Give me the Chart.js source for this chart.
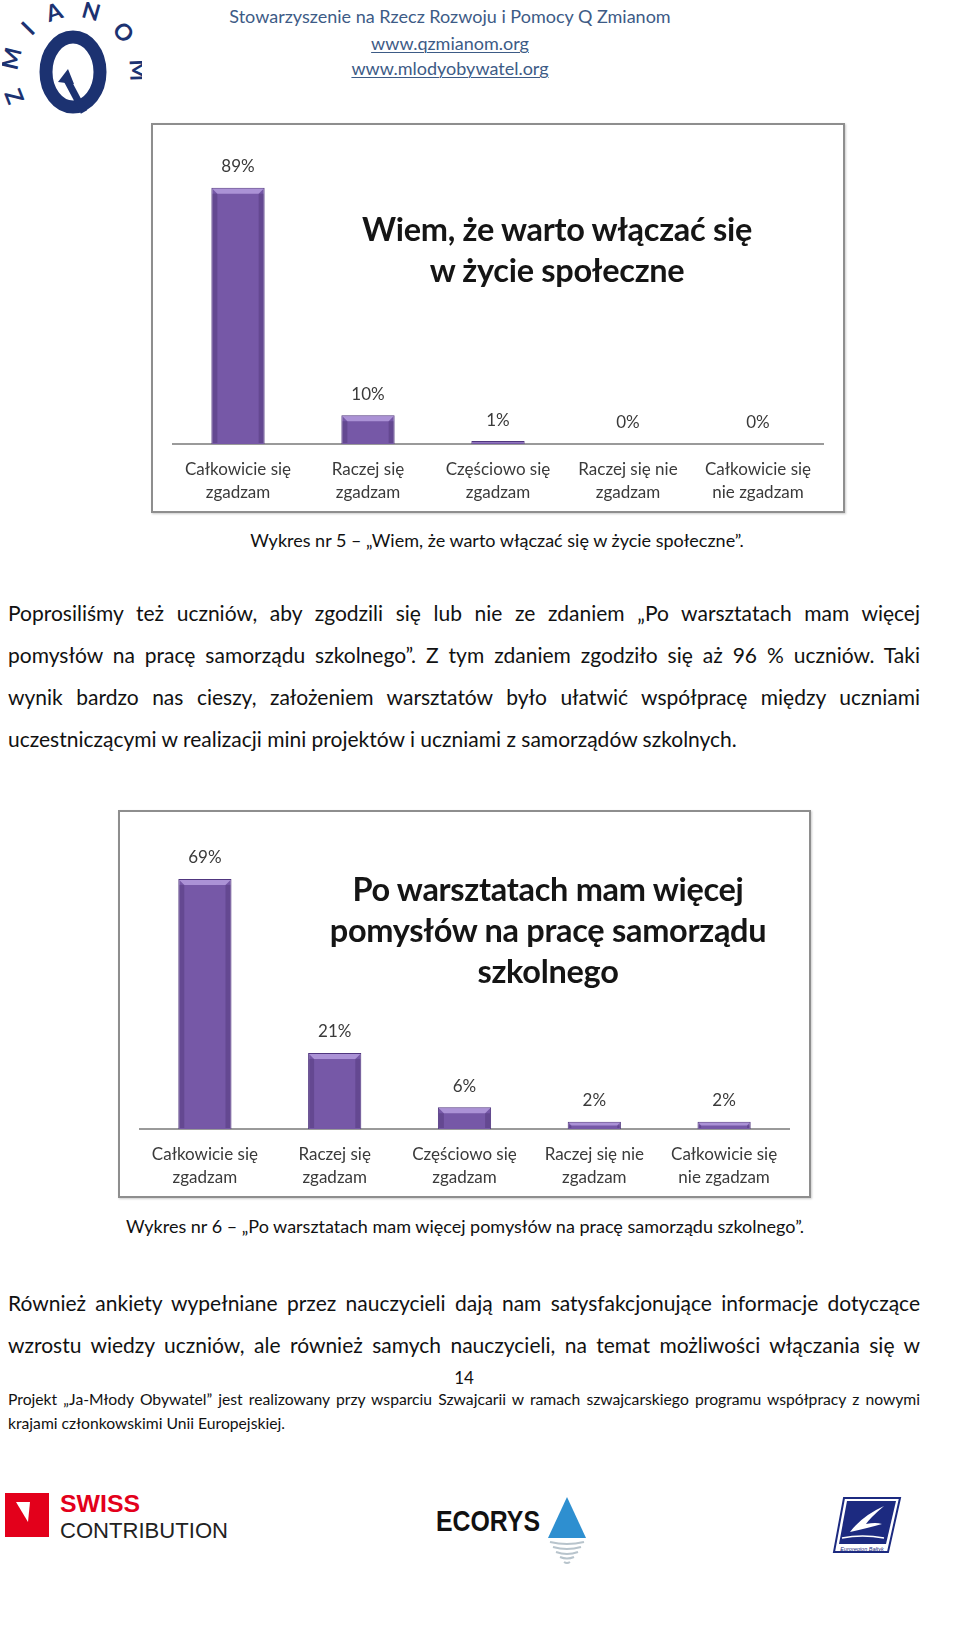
<!DOCTYPE html>
<html>
<head>
<meta charset="utf-8">
<script src="https://cdn.jsdelivr.net/npm/chart.js@4.4.1/dist/chart.umd.min.js"></script>
<style>
  body { margin:0; background:#fff; width:960px; height:1637px; position:relative; overflow:hidden; font-family:Lato, "Open Sans", sans-serif; color:#111; }
  .abs { position:absolute; white-space:nowrap; }
  .hdr { left:0; width:900px; text-align:center; color:#3d5b86; font-size:18px; line-height:24px; }
  .hdr u { text-decoration-thickness:1px; text-underline-offset:2px; }
  .line { left:8px; width:912px; font-size:21px; line-height:28px; text-align:justify; text-align-last:justify; }
  .line.last { text-align:left; text-align-last:left; }
  .cap { left:0; width:960px; font-size:18px; line-height:22px; text-align:center; }
  .foot { left:8px; width:912px; font-size:15.7px; line-height:20px; }
  .frame { position:absolute; border:2px solid #8e8e8e; box-sizing:border-box; box-shadow:1px 1px 2px #ccc; background:#fff; }
  .frame canvas { position:absolute; left:0; top:0; }
  .ttl { position:absolute; text-align:center; font-weight:bold; font-size:32.5px; line-height:41px; color:#151515; white-space:nowrap; letter-spacing:-0.3px; }
</style>
</head>
<body>

<!-- logo -->
<svg class="abs" style="left:2px;top:2px" width="140" height="115" viewBox="0 0 140 115">
  <defs><path id="arc" d="M 24 100 A 56 56 0 1 1 120 100"/></defs>
  <ellipse cx="71" cy="70" rx="27" ry="35" fill="none" stroke="#1c3271" stroke-width="13"/>
  <path d="M 64 76 L 82 110" stroke="#1c3271" stroke-width="7" fill="none"/>
  <path d="M 56 80 L 66 67 L 72 82 Z" fill="#1c3271"/>
  <text font-family="Lato" font-weight="bold" font-size="23" fill="#1c3271" textLength="212" lengthAdjust="spacing">
    <textPath href="#arc" startOffset="1%">ZMIANOM</textPath>
  </text>
</svg>

<div class="abs hdr" style="top:4px">Stowarzyszenie na Rzecz Rozwoju i Pomocy Q Zmianom</div>
<div class="abs hdr" style="top:31px"><u>www.qzmianom.org</u></div>
<div class="abs hdr" style="top:56px"><u>www.mlodyobywatel.org</u></div>

<!-- chart 5 -->
<div class="frame" id="f5" style="left:151px;top:123px;width:694px;height:390px">
  <canvas id="c5"></canvas>
  <div class="ttl" style="left:204px;width:400px;top:83px">Wiem, że warto włączać się<br>w życie społeczne</div>
</div>
<div class="abs cap" style="top:529px;left:17px">Wykres nr 5 – „Wiem, że warto włączać się w życie społeczne”.</div>

<div class="abs line" style="top:599px">Poprosiliśmy też uczniów, aby zgodzili się lub nie ze zdaniem „Po warsztatach mam więcej</div>
<div class="abs line" style="top:641px">pomysłów na pracę samorządu szkolnego”. Z tym zdaniem zgodziło się aż 96 % uczniów. Taki</div>
<div class="abs line" style="top:683px">wynik bardzo nas cieszy, założeniem warsztatów było ułatwić współpracę między uczniami</div>
<div class="abs line last" style="top:725px">uczestniczącymi w realizacji mini projektów i uczniami z samorządów szkolnych.</div>

<!-- chart 6 -->
<div class="frame" id="f6" style="left:118px;top:810px;width:693px;height:388px">
  <canvas id="c6"></canvas>
  <div class="ttl" style="left:178px;width:500px;top:56px">Po warsztatach mam więcej<br>pomysłów na pracę samorządu<br>szkolnego</div>
</div>
<div class="abs cap" style="top:1215px;left:-15px">Wykres nr 6 – „Po warsztatach mam więcej pomysłów na pracę samorządu szkolnego”.</div>

<div class="abs line" style="top:1289px">Również ankiety wypełniane przez nauczycieli dają nam satysfakcjonujące informacje dotyczące</div>
<div class="abs line" style="top:1331px">wzrostu wiedzy uczniów, ale również samych nauczycieli, na temat możliwości włączania się w</div>
<div class="abs" style="left:0;width:928px;text-align:center;top:1367px;font-size:17px;line-height:22px">14</div>
<div class="abs foot line" style="top:1389px;font-size:15.7px;line-height:20px">Projekt „Ja-Młody Obywatel” jest realizowany przy wsparciu Szwajcarii w ramach szwajcarskiego programu współpracy z nowymi</div>
<div class="abs foot" style="top:1413px">krajami członkowskimi Unii Europejskiej.</div>

<!-- footer logos -->
<svg class="abs" style="left:4px;top:1490px" width="240" height="55">
  <rect x="1" y="3" width="44" height="44" fill="#e3001b"/>
  <path d="M 12 12 L 26 12 L 24 32 Z" fill="#fff"/>
  <text x="56" y="22" font-family="Liberation Sans, Arial" font-weight="bold" font-size="23" fill="#e3001b" textLength="80" lengthAdjust="spacingAndGlyphs">SWISS</text>
  <text x="56" y="48" font-family="Liberation Sans Narrow, Liberation Sans" font-size="22" fill="#222" textLength="168" lengthAdjust="spacingAndGlyphs">CONTRIBUTION</text>
</svg>
<svg class="abs" style="left:434px;top:1494px" width="160" height="75">
  <text x="2" y="37" font-family="Liberation Sans Narrow, Liberation Sans" font-weight="bold" font-size="30" fill="#111" textLength="104" lengthAdjust="spacingAndGlyphs">ECORYS</text>
  <path d="M 133 3 L 152 44 L 114 44 Z" fill="#2e8fd0"/>
  <path d="M 116 48 Q 133 52 150 48 M 119 53 Q 133 57 147 53 M 122 58 Q 133 62 144 58 M 126 63 Q 133 66 140 63 M 130 68 Q 133 70 136 68" stroke="#b8c4cc" stroke-width="2" fill="none"/>
</svg>
<svg class="abs" style="left:832px;top:1494px" width="72" height="66">
  <path d="M 12 4 L 68 4 L 56 58 L 2 58 Z" fill="#fff" stroke="#1c2a80" stroke-width="2"/>
  <path d="M 15 7 L 64 7 L 54 50 L 7 50 Z" fill="#1c2a80"/>
  <path d="M 18 38 Q 30 22 52 12 Q 38 24 34 30 Q 44 28 50 30 Q 36 34 18 38 Z" fill="#fff"/>
  <path d="M 10 44 Q 30 40 52 44" stroke="#fff" stroke-width="1.5" fill="none"/>
  <text x="30" y="57" text-anchor="middle" font-family="Liberation Sans" font-size="5.5" font-style="italic" fill="#1c2a80">Euroregion Bałtyk</text>
</svg>

<script>
// ===== data =====
const categories = [
  ["Całkowicie się", "zgadzam"],
  ["Raczej się", "zgadzam"],
  ["Częściowo się", "zgadzam"],
  ["Raczej się nie", "zgadzam"],
  ["Całkowicie się", "nie zgadzam"]
];
const values5 = [89, 10, 1, 0, 0];
const values6 = [69, 21, 6, 2, 2];
const axisMax5 = 100;
const axisMax6 = 80;

// ===== labels above bars =====
const valueLabels = {
  id: "valueLabels",
  afterDatasetsDraw(chart) {
    const ctx = chart.ctx;
    const meta = chart.getDatasetMeta(0);
    const vals = chart.data.datasets[0].data;
    ctx.save();
    ctx.font = "17px Lato";
    ctx.fillStyle = "#3a3a3a";
    ctx.textAlign = "center";
    ctx.textBaseline = "middle";
    meta.data.forEach((bar, i) => {
      ctx.fillText(vals[i] + "%", bar.x, bar.y - 21);
    });
    ctx.restore();
  }
};

// bevel look on the bars
const bevel = {
  id: "bevel",
  afterDatasetsDraw(chart) {
    const ctx = chart.ctx;
    chart.getDatasetMeta(0).data.forEach(bar => {
      const h = bar.base - bar.y;
      if (h < 2) return;
      const w = bar.width, l = bar.x - w / 2, r = bar.x + w / 2, t = bar.y;
      const d = Math.min(6, h / 2);
      ctx.save();
      ctx.fillStyle = "rgba(190,165,230,0.75)";
      ctx.beginPath();
      ctx.moveTo(l + 1, t + 1); ctx.lineTo(r - 1, t + 1); ctx.lineTo(r - d, t + d); ctx.lineTo(l + d, t + d);
      ctx.closePath(); ctx.fill();
      ctx.fillStyle = "rgba(60,35,95,0.3)";
      ctx.fillRect(l + 1, t + d, d - 1, h - d - 1);
      ctx.fillRect(r - d, t + d, d - 1, h - d - 1);
      ctx.restore();
    });
  }
};

function makeChart(id, values, max, padTop) {
  const el = document.getElementById(id);
  const box = el.parentElement;
  el.style.width = (box.clientWidth) + "px";
  el.style.height = (box.clientHeight) + "px";
  return new Chart(el, {
    type: "bar",
    data: {
      labels: categories,
      datasets: [{
        data: values,
        backgroundColor: "#7658a7",
        borderColor: "#50367f",
        borderWidth: 1,
        barPercentage: 0.41,
        categoryPercentage: 1
      }]
    },
    options: {
      responsive: true,
      maintainAspectRatio: false,
      animation: false,
      layout: { padding: { left: 20, right: 20, top: padTop, bottom: 0 } },
      plugins: { legend: { display: false }, tooltip: { enabled: false } },
      scales: {
        y: { display: false, min: 0, max: max },
        x: {
          grid: { display: false, drawTicks: false },
          border: { display: true, color: "#9a9a9a", width: 2 },
          ticks: { color: "#3a3a3a", font: { family: "Lato", size: 17, lineHeight: 1.35 }, padding: 14, maxRotation: 0, autoSkip: false },
          afterFit(scale) { scale.height = 67; }
        }
      }
    },
    plugins: [bevel, valueLabels]
  });
}

makeChart("c5", values5, axisMax5, 31);
makeChart("c6", values6, axisMax6, 27);
</script>
</body>
</html>
